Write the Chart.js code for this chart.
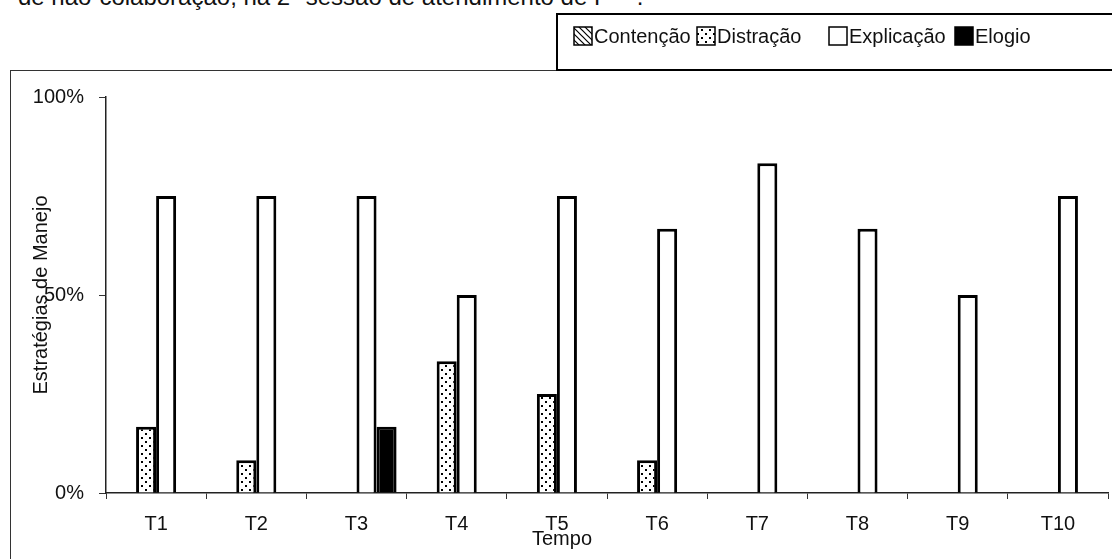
<!DOCTYPE html>
<html>
<head>
<meta charset="utf-8">
<script src="https://cdn.jsdelivr.net/npm/chart.js@4.4.1/dist/chart.umd.min.js"></script>
<style>
  body { margin: 0; background: #fff; overflow: hidden; }
  #caption {
    position: absolute; left: 18px; top: -16px;
    font: 24px/25px "Liberation Sans", Arial, sans-serif; color: #111;
    white-space: nowrap;
  }
  #chart { position: absolute; left: 0; top: 0; }
</style>
</head>
<body>
<div id="caption">de não-colaboração, na 2ª sessão de atendimento de P&nbsp;&nbsp;&nbsp;&nbsp;.</div>
<canvas id="chart" width="1112" height="559"></canvas>
<script>
// Data (percent)
const categories = ['T1', 'T2', 'T3', 'T4', 'T5', 'T6', 'T7', 'T8', 'T9', 'T10'];
const contencao  = [0, 0, 0, 0, 0, 0, 0, 0, 0, 0];
const distracao  = [16.7, 8.3, 0, 33.3, 25, 8.3, 0, 0, 0, 0];
const explicacao = [75, 75, 75, 50, 75, 66.7, 83.3, 66.7, 50, 75];
const elogio     = [0, 0, 16.7, 0, 0, 0, 0, 0, 0, 0];
const yTicks = [0, 50, 100];

const FONT = '"Liberation Sans", Arial, sans-serif';

// fill patterns like the old printed chart
function stripePattern() {
    const c = document.createElement('canvas');
    c.width = 6; c.height = 6;
    const g = c.getContext('2d');
    g.fillStyle = '#fff';
    g.fillRect(0, 0, 6, 6);
    g.strokeStyle = '#000';
    g.lineWidth = 1.2;
    g.beginPath();
    g.moveTo(-1, -1); g.lineTo(7, 7);
    g.moveTo(-1, 5); g.lineTo(1, 7);
    g.moveTo(5, -1); g.lineTo(7, 1);
    g.stroke();
    return g.createPattern(c, 'repeat');
}

function dotPattern() {
    const c = document.createElement('canvas');
    c.width = 8; c.height = 8;
    const g = c.getContext('2d');
    g.fillStyle = '#fff';
    g.fillRect(0, 0, 8, 8);
    g.fillStyle = '#000';
    g.fillRect(1, 1, 2, 2);
    g.fillRect(5, 5, 2, 2);
    return g.createPattern(c, 'repeat');
}

// frame, legend box and the "Tempo" label
const decorations = {
    id: 'decorations',
    beforeDraw(chart) {
        const ctx = chart.ctx;
        ctx.save();
        ctx.strokeStyle = '#333';
        ctx.lineWidth = 1;
        ctx.strokeRect(10.5, 70.5, 1120, 520);
        ctx.restore();
    },
    afterDraw(chart) {
        const ctx = chart.ctx;
        ctx.save();
        // legend box
        ctx.fillStyle = '#fff';
        ctx.fillRect(557, 14, 570, 56);
        ctx.strokeStyle = '#000';
        ctx.lineWidth = 2;
        ctx.strokeRect(557, 14, 570, 56);

        const swatchX = [574, 697, 829, 955];
        ctx.font = '20px ' + FONT;
        ctx.textBaseline = 'middle';
        chart.data.datasets.forEach((ds, i) => {
            const x = swatchX[i];
            ctx.fillStyle = ds.backgroundColor;
            ctx.fillRect(x, 27, 18, 18);
            ctx.strokeStyle = '#000';
            ctx.lineWidth = 1.5;
            ctx.strokeRect(x, 27, 18, 18);
            ctx.fillStyle = '#111';
            ctx.fillText(ds.label, x + 20, 37);
        });

        // x axis title sits left of center in the original
        ctx.textAlign = 'center';
        ctx.fillText('Tempo', 562, 539);
        ctx.restore();
    }
};

const ctx = document.getElementById('chart').getContext('2d');

new Chart(ctx, {
    type: 'bar',
    data: {
        labels: categories,
        datasets: [
            { label: 'Contenção', data: contencao, backgroundColor: stripePattern() },
            { label: 'Distração', data: distracao, backgroundColor: dotPattern() },
            { label: 'Explicação', data: explicacao, backgroundColor: '#fff' },
            { label: 'Elogio', data: elogio, backgroundColor: '#000' },
        ],
    },
    options: {
        responsive: false,
        animation: false,
        events: [],
        layout: { padding: { top: 97, right: 4, left: 0, bottom: 0 } },
        datasets: {
            bar: {
                borderColor: '#000',
                borderWidth: 3,
                categoryPercentage: 0.8,
                barPercentage: 1,
            },
        },
        plugins: {
            legend: { display: false },
            tooltip: { enabled: false },
        },
        scales: {
            x: {
                afterFit: scale => { scale.height = 66; },
                grid: {
                    offset: true,
                    drawOnChartArea: false,
                    drawTicks: true,
                    tickLength: 6,
                    color: '#333',
                },
                border: { display: true, color: '#222', width: 1.5 },
                ticks: {
                    padding: 13,
                    color: '#111',
                    font: { family: FONT, size: 20 },
                },
            },
            y: {
                min: 0,
                max: 100,
                afterFit: scale => { scale.width = 106; },
                afterBuildTicks: scale => { scale.ticks = yTicks.map(v => ({ value: v })); },
                grid: {
                    drawOnChartArea: false,
                    drawTicks: true,
                    tickLength: 7,
                    color: '#333',
                },
                border: { display: true, color: '#222', width: 1.5 },
                ticks: {
                    padding: 15,
                    color: '#111',
                    font: { family: FONT, size: 20 },
                    callback: v => v + '%',
                },
                title: {
                    display: true,
                    text: 'Estratégias de Manejo',
                    color: '#111',
                    font: { family: FONT, size: 20 },
                    padding: { top: 29, bottom: 0 },
                },
            },
        },
    },
    plugins: [decorations],
});
</script>
</body>
</html>
